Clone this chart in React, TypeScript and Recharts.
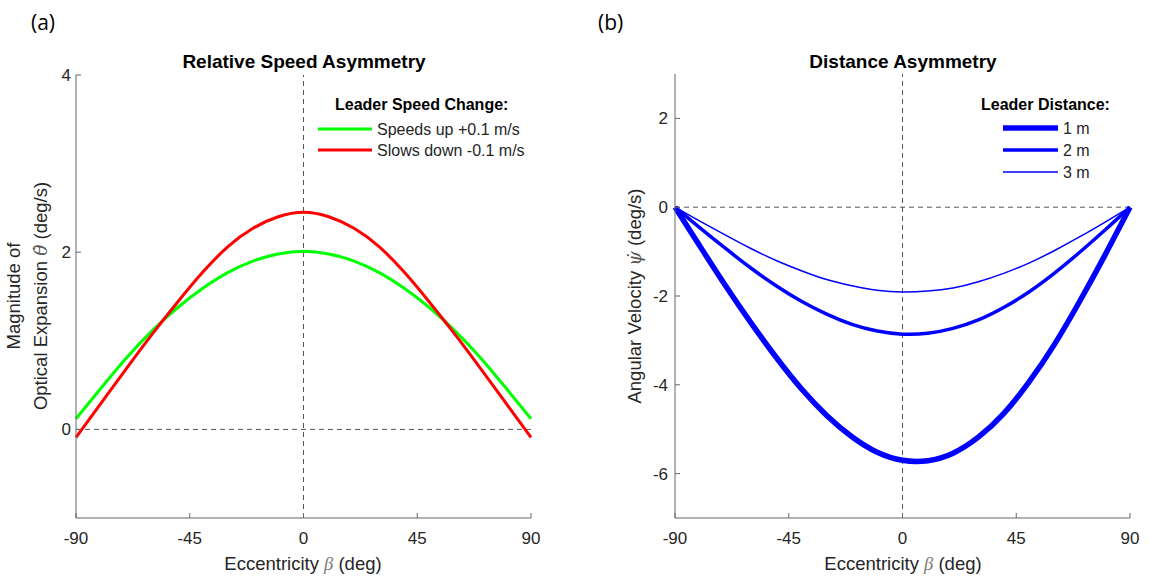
import React from 'react';
import { LineChart, Line, XAxis, YAxis, ReferenceLine } from 'recharts';

const betaDeg = [-90, -80, -70, -60, -50, -40, -30, -20, -10, 0, 10, 20, 30, 40, 50, 60, 70, 80, 90];
const speedsUp = [0.12, 0.47, 0.81, 1.11, 1.37, 1.59, 1.77, 1.9, 1.98, 2.01, 1.98, 1.9, 1.77, 1.59, 1.37, 1.11, 0.81, 0.47, 0.12];
const slowsDown = [-0.09, 0.3, 0.69, 1.07, 1.43, 1.77, 2.06, 2.27, 2.4, 2.45, 2.4, 2.27, 2.06, 1.77, 1.43, 1.07, 0.69, 0.3, -0.09];
const dist1m = [0, -0.89, -1.77, -2.6, -3.38, -4.09, -4.69, -5.17, -5.52, -5.7, -5.71, -5.54, -5.18, -4.65, -3.94, -3.1, -2.13, -1.09, 0];
const dist2m = [0, -0.47, -0.93, -1.37, -1.77, -2.12, -2.41, -2.64, -2.79, -2.86, -2.84, -2.73, -2.54, -2.26, -1.91, -1.49, -1.02, -0.52, 0];
const dist3m = [0, -0.32, -0.63, -0.93, -1.2, -1.43, -1.63, -1.77, -1.87, -1.91, -1.89, -1.82, -1.68, -1.49, -1.26, -0.98, -0.67, -0.34, 0];

const xTicks = [-90, -45, 0, 45, 90];
const leftYTicks = [0, 2, 4];
const rightYTicks = [-6, -4, -2, 0, 2];

const leftData = betaDeg.map((b, i) => ({ beta: b, up: speedsUp[i], down: slowsDown[i] }));
const rightData = betaDeg.map((b, i) => ({ beta: b, d1: dist1m[i], d2: dist2m[i], d3: dist3m[i] }));

const FONT = '"Liberation Sans", Arial, sans-serif';
const AXIS = '#666';
const TICK = { fill: '#262626', fontSize: 17, fontFamily: FONT };

export default function App() {
  return (
    <div style={{ position: 'absolute', left: 0, top: 0, width: 1152, height: 578, background: '#fff' }}>
      <div style={{ position: 'absolute', left: 0, top: 0 }}>
        <LineChart width={576} height={578} data={leftData} margin={{ top: 75, right: 45, bottom: 30, left: 36 }}>
          <XAxis dataKey="beta" type="number" domain={[-90, 90]} ticks={xTicks} interval={0}
            tickSize={-5} tickMargin={19} height={30}
            axisLine={{ stroke: AXIS }} tickLine={{ stroke: AXIS }} tick={TICK} />
          <YAxis type="number" domain={[-1, 4]} ticks={leftYTicks} interval={0} width={40}
            tickSize={-5} tickMargin={10} allowDataOverflow
            axisLine={{ stroke: AXIS }} tickLine={{ stroke: AXIS }} tick={TICK} />
          <ReferenceLine y={0} stroke="#555" strokeDasharray="5 4" />
          <ReferenceLine x={0} stroke="#555" strokeDasharray="5 4" />
          <Line type="natural" dataKey="up" stroke="#00ff00" strokeWidth={3} dot={false} isAnimationActive={false} />
          <Line type="natural" dataKey="down" stroke="#ff0000" strokeWidth={3} dot={false} isAnimationActive={false} />
        </LineChart>
      </div>
      <div style={{ position: 'absolute', left: 576, top: 0 }}>
        <LineChart width={576} height={578} data={rightData} margin={{ top: 74, right: 22, bottom: 30, left: 59 }}>
          <XAxis dataKey="beta" type="number" domain={[-90, 90]} ticks={xTicks} interval={0}
            tickSize={-5} tickMargin={19} height={30}
            axisLine={{ stroke: AXIS }} tickLine={{ stroke: AXIS }} tick={TICK} />
          <YAxis type="number" domain={[-7, 3]} ticks={rightYTicks} interval={0} width={40}
            tickSize={-5} tickMargin={12} allowDataOverflow
            axisLine={{ stroke: AXIS }} tickLine={{ stroke: AXIS }} tick={TICK} />
          <ReferenceLine y={0} stroke="#555" strokeDasharray="5 4" />
          <ReferenceLine x={0} stroke="#555" strokeDasharray="5 4" />
          <Line type="natural" dataKey="d1" stroke="#0000ff" strokeWidth={5.5} dot={false} isAnimationActive={false} />
          <Line type="natural" dataKey="d2" stroke="#0000ff" strokeWidth={3.5} dot={false} isAnimationActive={false} />
          <Line type="natural" dataKey="d3" stroke="#0000ff" strokeWidth={1.5} dot={false} isAnimationActive={false} />
        </LineChart>
      </div>
      <svg width={1152} height={578} style={{ position: 'absolute', left: 0, top: 0, pointerEvents: 'none' }}>
        <g fontFamily={FONT} fill="#000">
          <text x={31} y={30} fontSize={21} fontFamily='"Open Sans", sans-serif'>(a)</text>
          <text x={598} y={30} fontSize={21} fontFamily='"Open Sans", sans-serif'>(b)</text>
          <text x={304} y={68} fontSize={19} fontWeight="bold" textAnchor="middle">Relative Speed Asymmetry</text>
          <text x={903} y={68} fontSize={19} fontWeight="bold" textAnchor="middle">Distance Asymmetry</text>

          <text x={335} y={110} fontSize={16} fontWeight="bold">Leader Speed Change:</text>
          <line x1={318} x2={372} y1={129} y2={129} stroke="#00ff00" strokeWidth={3} />
          <text x={377} y={135} fontSize={16} fill="#262626">Speeds up +0.1 m/s</text>
          <line x1={318} x2={372} y1={150} y2={150} stroke="#ff0000" strokeWidth={3} />
          <text x={377} y={156} fontSize={16} fill="#262626">Slows down -0.1 m/s</text>

          <text x={981} y={110} fontSize={16} fontWeight="bold">Leader Distance:</text>
          <line x1={1003} x2={1058} y1={128} y2={128} stroke="#0000ff" strokeWidth={5.5} />
          <text x={1063} y={134} fontSize={16} fill="#262626">1 m</text>
          <line x1={1003} x2={1058} y1={150} y2={150} stroke="#0000ff" strokeWidth={3.5} />
          <text x={1063} y={156} fontSize={16} fill="#262626">2 m</text>
          <line x1={1003} x2={1058} y1={172} y2={172} stroke="#0000ff" strokeWidth={1.5} />
          <text x={1063} y={178} fontSize={16} fill="#262626">3 m</text>

          <text x={303} y={570} fontSize={18.5} textAnchor="middle" fill="#262626">
            Eccentricity <tspan fontStyle="italic" fill="#777" fontFamily='"Liberation Serif", serif'>β</tspan> (deg)
          </text>
          <text x={903} y={570} fontSize={18.5} textAnchor="middle" fill="#262626">
            Eccentricity <tspan fontStyle="italic" fill="#777" fontFamily='"Liberation Serif", serif'>β</tspan> (deg)
          </text>

          <text transform="translate(20,296) rotate(-90)" fontSize={18.5} textAnchor="middle" fill="#262626">Magnitude of</text>
          <text transform="translate(47,296) rotate(-90)" fontSize={18.5} textAnchor="middle" fill="#262626">
            Optical Expansion <tspan fontStyle="italic" fill="#555" fontFamily='"DejaVu Serif", serif'>θ̇</tspan> (deg/s)
          </text>
          <text transform="translate(641,296) rotate(-90)" fontSize={18.5} textAnchor="middle" fill="#262626">
            Angular Velocity <tspan fontStyle="italic" fill="#555" fontFamily='"DejaVu Serif", serif'>ψ̇</tspan> (deg/s)
          </text>
        </g>
      </svg>
    </div>
  );
}
